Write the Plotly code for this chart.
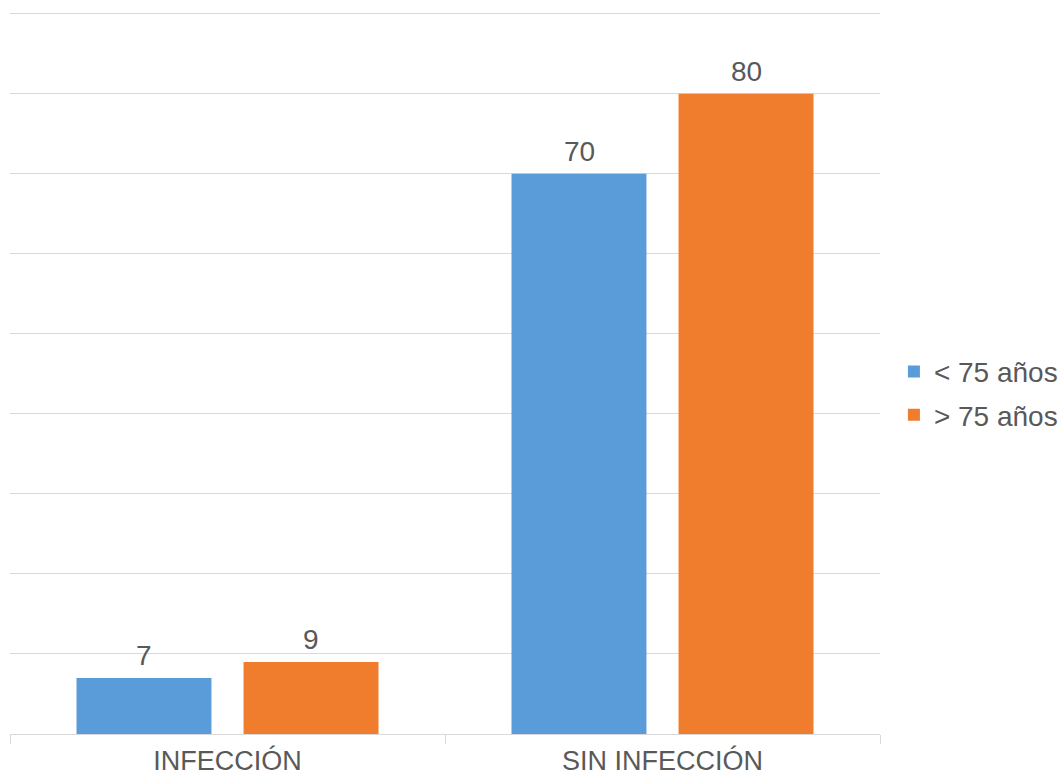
import plotly.graph_objects as go

categories = ["INFECCIÓN", "SIN INFECCIÓN"]
menores_75 = [7, 70]
mayores_75 = [9, 80]
series_names = ["< 75 años", "> 75 años"]

text_color = "#595959"
grid_color = "#D9D9D9"
font_family = "Liberation Sans, Arial, sans-serif"
series_colors = ["#5A9BDA", "#F07D2D"]

fig = go.Figure()
for name, values, color, grp in zip(series_names, [menores_75, mayores_75],
                                    series_colors, ["a", "b"]):
    fig.add_trace(go.Bar(
        x=categories, y=values, name=name, legendgroup=grp,
        marker=dict(color=color, line=dict(width=0)),
        cliponaxis=False,
    ))

# value labels above each bar (bar centres sit half a slot either side of the category)
for values, shift in zip([menores_75, mayores_75], [-83.5, 83.5]):
    for cat, v in zip(categories, values):
        fig.add_annotation(
            x=cat, y=v, text=str(v), showarrow=False,
            xshift=shift, yshift=22, yanchor="middle",
            font=dict(size=28, color=text_color, family=font_family),
        )

fig.update_layout(
    width=1063, height=779,
    margin=dict(l=10, r=183, t=12, b=45, autoexpand=False),
    paper_bgcolor="white", plot_bgcolor="white",
    barmode="group", bargap=0.232, bargroupgap=0.192,
    font=dict(family=font_family, size=28, color=text_color),
    showlegend=True,
    legend=dict(x=1.016, xanchor="left", y=0.472, yanchor="middle",
                font=dict(size=28, color=text_color), tracegroupgap=4,
                itemwidth=30),
)
fig.update_xaxes(
    showline=True, linecolor=grid_color, linewidth=1,
    ticks="outside", tickson="boundaries", ticklen=9, tickcolor=grid_color,
    showgrid=False, tickfont=dict(size=27, color=text_color),
    ticklabelstandoff=3, automargin=False,
)
fig.update_yaxes(
    range=[0, 90.2], dtick=10, showgrid=True, gridcolor=grid_color, gridwidth=1,
    showticklabels=False, zeroline=False, showline=False, ticks="",
    automargin=False,
)

fig.write_html("out.html")
